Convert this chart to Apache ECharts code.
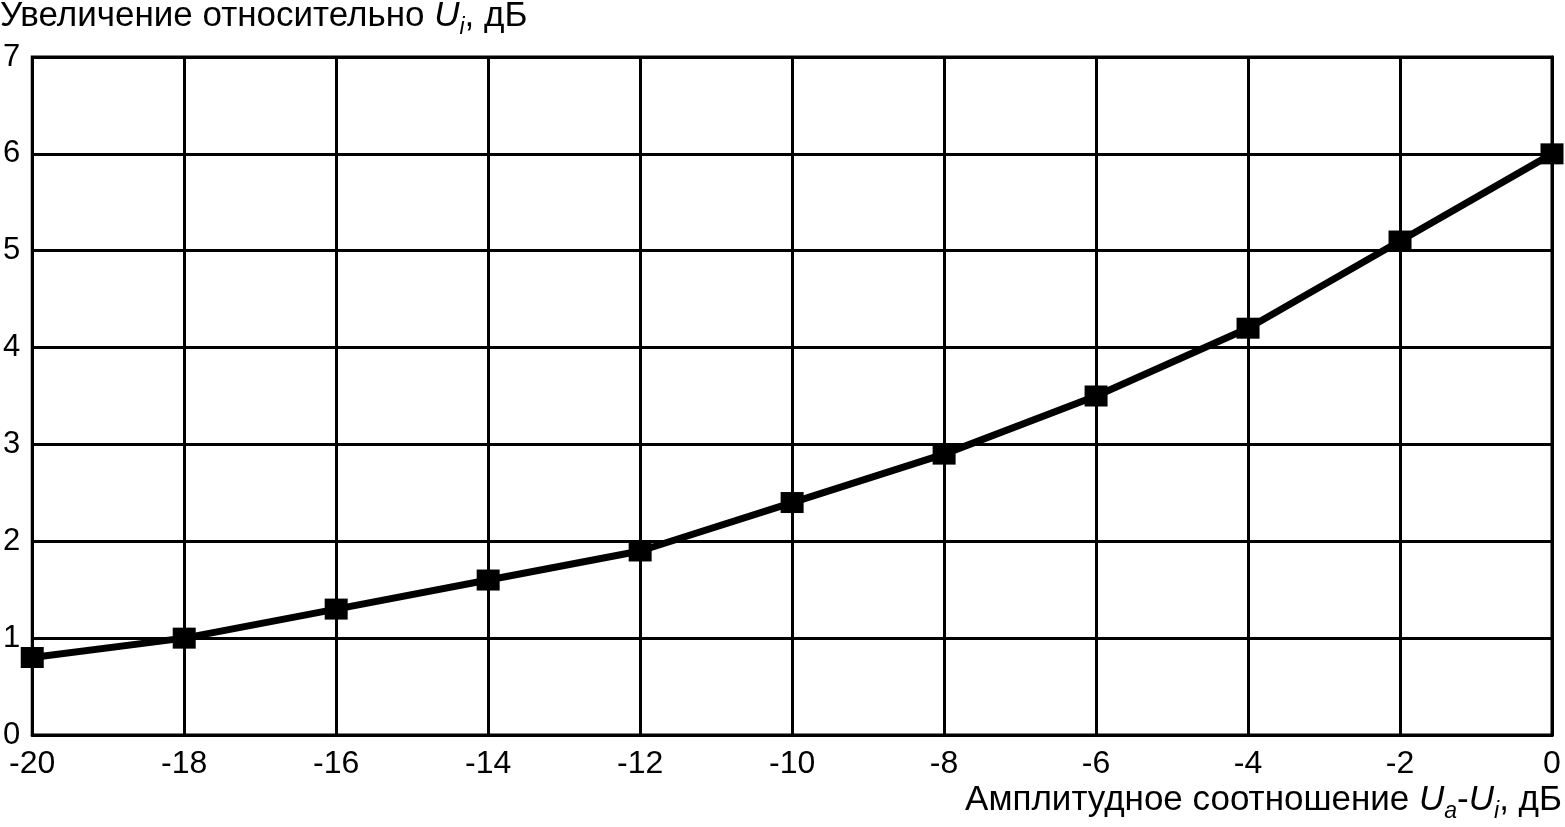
<!DOCTYPE html>
<html><head><meta charset="utf-8">
<script src="https://cdn.jsdelivr.net/npm/echarts@6/dist/echarts.min.js"></script>
<style>html,body{margin:0;padding:0;background:#fff}#c{width:1565px;height:827px}</style>
</head><body><div id="c"></div>
<script>
const xValues = [-20, -18, -16, -14, -12, -10, -8, -6, -4, -2, 0];
const yValues = [0.8, 1.0, 1.3, 1.6, 1.9, 2.4, 2.9, 3.5, 4.2, 5.1, 6.0];
const yAxisTitle = ['Увеличение относительно ', 'U', 'i', ', дБ'];
const xAxisTitle = ['Амплитудное соотношение ', 'U', 'a', '-', 'U', 'i', ', дБ'];

const FONT = '"Liberation Sans", Arial, sans-serif';
const chart = echarts.init(document.getElementById('c'));
const rich = {
  n: {fontSize: 35, fontFamily: FONT, color: '#000', lineHeight: 40, verticalAlign: 'top'},
  u: {fontSize: 35, fontFamily: FONT, color: '#000', fontStyle: 'italic', lineHeight: 40, verticalAlign: 'top'},
  s: {fontSize: 23, fontFamily: FONT, color: '#000', fontStyle: 'italic', lineHeight: 40, verticalAlign: 'bottom'}
};
function richText(parts) {
  const tags = parts.length === 4 ? ['n','u','s','n'] : ['n','u','s','n','u','s','n'];
  return parts.map((p, i) => '{' + tags[i] + '|' + p + '}').join('');
}
chart.setOption({
  animation: false,
  backgroundColor: '#fff',
  grid: {left: 31, right: 13, top: 57, bottom: 92, show: true, borderColor: '#000', borderWidth: 3},
  xAxis: {
    type: 'value', min: -20, max: 0, interval: 2,
    axisLine: {show: true, lineStyle: {color: '#000', width: 3}},
    axisTick: {show: false},
    splitLine: {show: true, lineStyle: {color: '#000', width: 3}},
    axisLabel: {color: '#000', fontSize: 32, fontFamily: FONT, margin: 13}
  },
  yAxis: {
    type: 'value', min: 0, max: 7, interval: 1,
    axisLine: {show: true, lineStyle: {color: '#000', width: 3}},
    axisTick: {show: false},
    splitLine: {show: true, lineStyle: {color: '#000', width: 3}},
    axisLabel: {color: '#000', fontSize: 31, fontFamily: FONT, margin: 12}
  },
  series: [{
    type: 'line',
    data: xValues.map((x, i) => [x, yValues[i]]),
    symbol: 'rect', symbolSize: [23, 21],
    lineStyle: {color: '#000', width: 7},
    itemStyle: {color: '#000'},
    clip: false
  }],
  graphic: [
    {type: 'text', left: 0, top: -1, style: {text: richText(yAxisTitle), rich: rich}},
    {type: 'text', right: 3, top: 783, style: {text: richText(xAxisTitle), rich: rich}}
  ]
});
</script></body></html>
